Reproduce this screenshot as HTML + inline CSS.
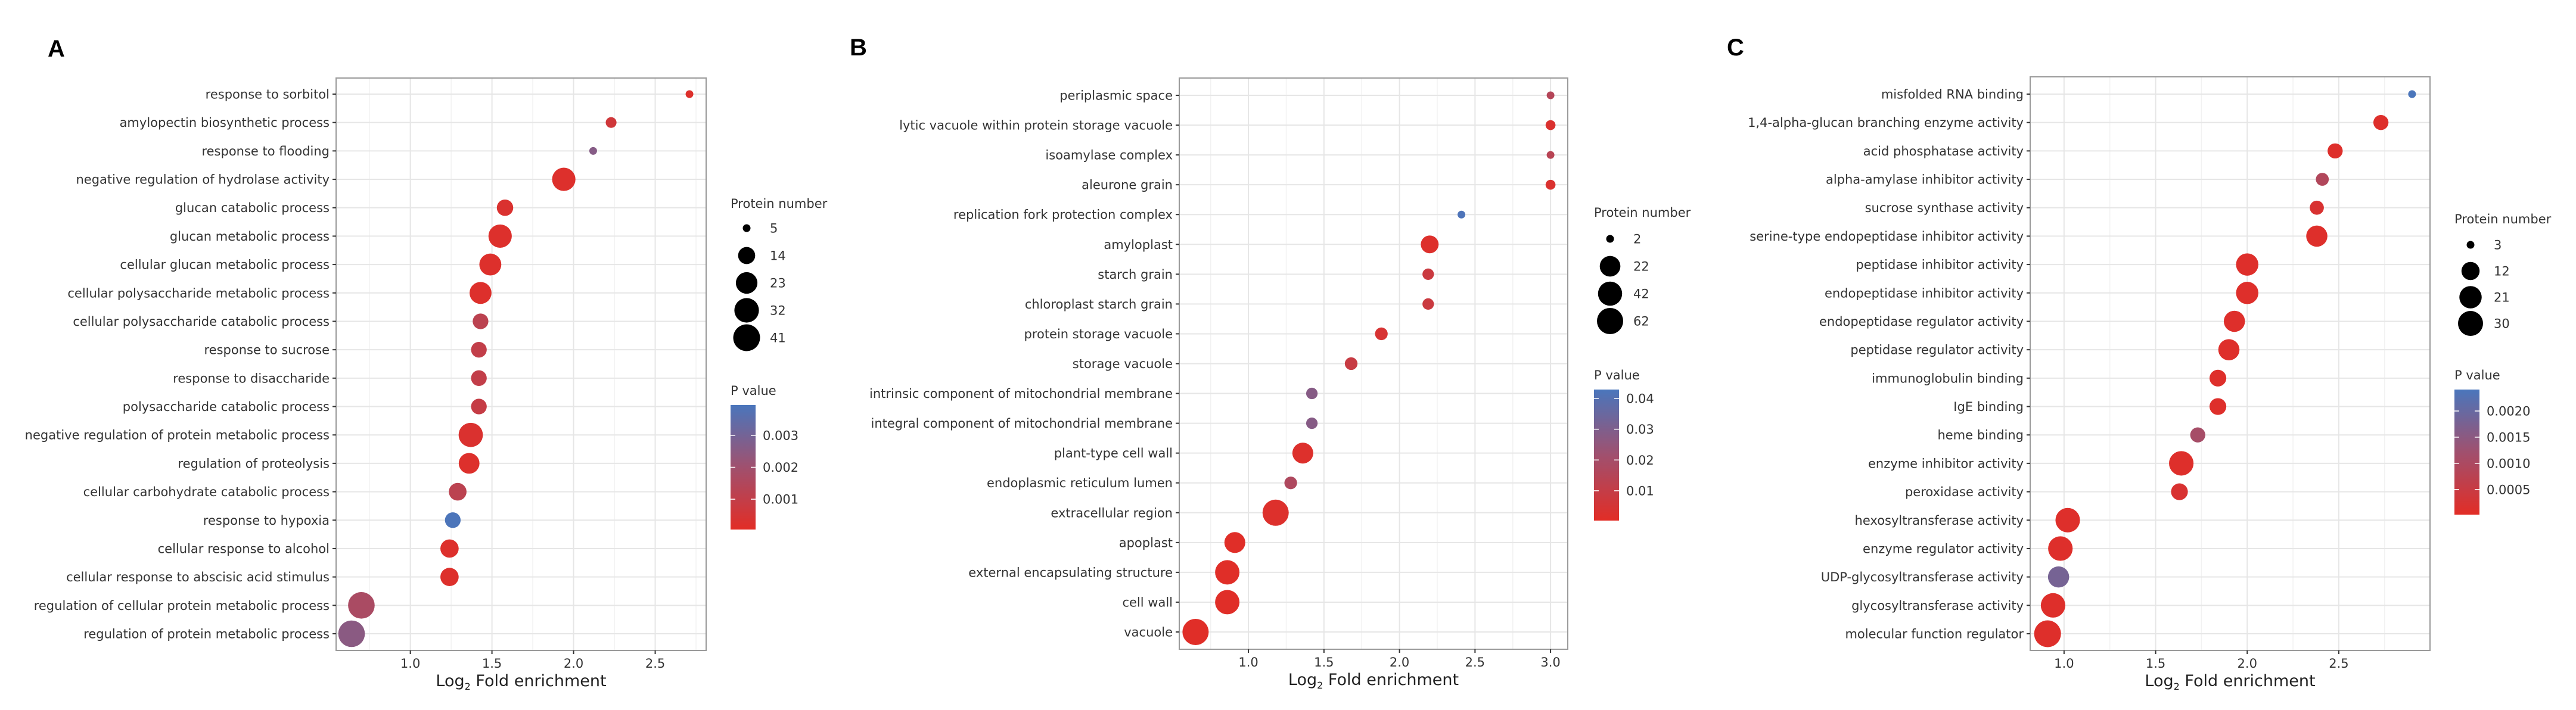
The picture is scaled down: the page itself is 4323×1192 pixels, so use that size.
<!DOCTYPE html>
<html><head><meta charset="utf-8"><style>
html,body{margin:0;padding:0;background:#fff;}
svg{display:block;font-family:"DejaVu Sans","Liberation Sans",sans-serif;}
</style></head><body>
<svg id="fig" width="4323" height="1192" viewBox="0 0 4323 1192" xmlns="http://www.w3.org/2000/svg"></svg>
<script>
// ---------- Panel A data ----------
const catA = ["response to sorbitol","amylopectin biosynthetic process","response to flooding","negative regulation of hydrolase activity","glucan catabolic process","glucan metabolic process","cellular glucan metabolic process","cellular polysaccharide metabolic process","cellular polysaccharide catabolic process","response to sucrose","response to disaccharide","polysaccharide catabolic process","negative regulation of protein metabolic process","regulation of proteolysis","cellular carbohydrate catabolic process","response to hypoxia","cellular response to alcohol","cellular response to abscisic acid stimulus","regulation of cellular protein metabolic process","regulation of protein metabolic process"];
const foldA = [2.71,2.23,2.12,1.94,1.58,1.55,1.49,1.43,1.43,1.42,1.42,1.42,1.37,1.36,1.29,1.26,1.24,1.24,0.70,0.64];
const countA = [5,7,5,28,13,28,24,24,12,12,12,12,31,21,15,12,16,16,40,40];
const pA = [0.0002,0.0006,0.0026,0.0002,0.0003,0.0002,0.0002,0.0002,0.0012,0.0010,0.0010,0.0009,0.0003,0.0002,0.0012,0.0039,0.0002,0.0002,0.0017,0.0025];
const sizeBreaksA = [5,14,23,32,41];
const pTicksA = [0.003,0.002,0.001];
const pTickLabelsA = ["0.003","0.002","0.001"];
const xTicksA = [1.0,1.5,2.0,2.5];
const xTickLabelsA = ["1.0","1.5","2.0","2.5"];
// ---------- Panel B data ----------
const catB = ["periplasmic space","lytic vacuole within protein storage vacuole","isoamylase complex","aleurone grain","replication fork protection complex","amyloplast","starch grain","chloroplast starch grain","protein storage vacuole","storage vacuole","intrinsic component of mitochondrial membrane","integral component of mitochondrial membrane","plant-type cell wall","endoplasmic reticulum lumen","extracellular region","apoplast","external encapsulating structure","cell wall","vacuole"];
const foldB = [3.0,3.0,3.0,3.0,2.41,2.20,2.19,2.19,1.88,1.68,1.42,1.42,1.36,1.28,1.18,0.91,0.86,0.86,0.65];
const countB = [2,3,2,3,2,13,4,4,5,5,4,4,23,5,62,23,44,44,62];
const pB = [0.015,0.003,0.014,0.003,0.042,0.002,0.008,0.008,0.004,0.009,0.028,0.028,0.002,0.017,0.002,0.001,0.001,0.001,0.001];
const sizeBreaksB = [2,22,42,62];
const pTicksB = [0.04,0.03,0.02,0.01];
const pTickLabelsB = ["0.04","0.03","0.02","0.01"];
const xTicksB = [1.0,1.5,2.0,2.5,3.0];
const xTickLabelsB = ["1.0","1.5","2.0","2.5","3.0"];
// ---------- Panel C data ----------
const catC = ["misfolded RNA binding","1,4-alpha-glucan branching enzyme activity","acid phosphatase activity","alpha-amylase inhibitor activity","sucrose synthase activity","serine-type endopeptidase inhibitor activity","peptidase inhibitor activity","endopeptidase inhibitor activity","endopeptidase regulator activity","peptidase regulator activity","immunoglobulin binding","IgE binding","heme binding","enzyme inhibitor activity","peroxidase activity","hexosyltransferase activity","enzyme regulator activity","UDP-glycosyltransferase activity","glycosyltransferase activity","molecular function regulator"];
const foldC = [2.90,2.73,2.48,2.41,2.38,2.38,2.00,2.00,1.93,1.90,1.84,1.84,1.73,1.64,1.63,1.02,0.98,0.97,0.94,0.91];
const countC = [3,8,8,6,7,18,21,21,18,18,10,10,8,28,10,28,28,18,28,38];
const pC = [0.0024,0.0001,0.0001,0.0009,0.0002,0.0001,0.0001,0.0001,0.0001,0.0001,0.0001,0.0001,0.0011,0.0001,0.0002,0.0001,0.0001,0.0018,0.0001,0.0001];
const sizeBreaksC = [3,12,21,30];
const pTicksC = [0.0020,0.0015,0.0010,0.0005];
const pTickLabelsC = ["0.0020","0.0015","0.0010","0.0005"];
const xTicksC = [1.0,1.5,2.0,2.5];
const xTickLabelsC = ["1.0","1.5","2.0","2.5"];

const NS = "http://www.w3.org/2000/svg";
const svg = document.getElementById('fig');
function mk(tag, attrs, parent){
  const e = document.createElementNS(NS, tag);
  for (const k in attrs) e.setAttribute(k, attrs[k]);
  (parent||svg).appendChild(e);
  return e;
}
function lerp(a,b,t){return a+(b-a)*t;}
const cLow=[226,45,38], cMid=[160,80,110], cHigh=[74,118,188];
function pColor(t){
  t=Math.max(0,Math.min(1,t));
  let c;
  if(t<0.5){const u=t/0.5;c=[0,1,2].map(i=>Math.round(lerp(cLow[i],cMid[i],u)));}
  else{const u=(t-0.5)/0.5;c=[0,1,2].map(i=>Math.round(lerp(cMid[i],cHigh[i],u)));}
  return `rgb(${c[0]},${c[1]},${c[2]})`;
}

function drawPanel(cfg){
  const g = mk('g',{});
  
  
  const {L,R,T,B,xmin,xmax,rowTop,rowBot} = cfg;
  const xs = v => L + (v - xmin)/(xmax - xmin)*(R - L);
  const n = cfg.cats.length;
  const ys = i => rowTop + i*(rowBot-rowTop)/(n-1);
  const lnMin = Math.log(cfg.sizeBreaks[0]), lnMax = Math.log(cfg.sizeBreaks[cfg.sizeBreaks.length-1]);
  const rs = v => 6.5 + (cfg.rMax-6.5)*(Math.log(v)-lnMin)/(lnMax-lnMin);
  const pt = v => (v - cfg.pMin)/(cfg.pMax - cfg.pMin);

  const lt = mk('text',{x:cfg.letterX,y:cfg.letterY,'font-size':40,'font-weight':'bold','font-family':'Liberation Sans, sans-serif',fill:'#000'},g);
  lt.textContent = cfg.letter;
  
  

  const grid = mk('g',{},g);
  
  
  const t0 = cfg.xTicks[0]-0.25;
  for(let v=t0; v<=xmax; v+=0.5){ if(v>=xmin) mk('line',{x1:xs(v),x2:xs(v),y1:T,y2:B,stroke:'#f2f2f2','stroke-width':1.5},grid); }
  cfg.xTicks.forEach(v=>mk('line',{x1:xs(v),x2:xs(v),y1:T,y2:B,stroke:'#e6e6e6','stroke-width':2},grid));
  for(let i=0;i<n;i++) mk('line',{x1:L,x2:R,y1:ys(i),y2:ys(i),stroke:'#e6e6e6','stroke-width':2},grid);

  const br = mk('rect',{x:L,y:T,width:R-L,height:B-T,fill:'none',stroke:'#9a9a9a','stroke-width':2},g);
  
  

  cfg.cats.forEach((c,i)=>{
    mk('line',{x1:L-6,x2:L,y1:ys(i),y2:ys(i),stroke:'#333','stroke-width':2},g);
    const t = mk('text',{x:L-11,y:ys(i)+7.5,'text-anchor':'end','font-size':21,fill:'#333'},g);
    t.textContent = c;
    
    
  });
  cfg.xTicks.forEach((v,i)=>{
    mk('line',{x1:xs(v),x2:xs(v),y1:B,y2:B+6,stroke:'#333','stroke-width':2},g);
    const t = mk('text',{x:xs(v),y:B+29,'text-anchor':'middle','font-size':21,fill:'#333'},g);
    t.textContent = cfg.xLabels[i];
    
    
  });
  const xt = mk('text',{x:(L+R)/2,y:B+60,'text-anchor':'middle','font-size':27,fill:'#222'},g);
  xt.innerHTML = 'Log<tspan font-size="16" dy="6">2</tspan><tspan dy="-6"> Fold enrichment</tspan>';
  
  

  cfg.cats.forEach((c,i)=>{
    const p = mk('circle',{cx:xs(cfg.fold[i]),cy:ys(i),r:rs(cfg.count[i]),fill:pColor(pt(cfg.p[i]))},g);
    
    
  });

  const sl = mk('g',{},g);
  
  
  const st = mk('text',{x:cfg.legX,y:cfg.sizeTitleY+7,'font-size':21,fill:'#333'},sl);
  st.textContent = 'Protein number';
  cfg.sizeBreaks.forEach((v,i)=>{
    const cy = cfg.sizeYs0 + i*cfg.sizeStep;
    const c = mk('circle',{cx:cfg.legX+27,cy:cy,r:rs(v),fill:'#000'},sl);
    
    
    const t = mk('text',{x:cfg.legX+66,y:cy+7.5,'font-size':21,fill:'#333'},sl);
    t.textContent = String(v);
  });

  const cl = mk('g',{},g);
  
  
  const ct = mk('text',{x:cfg.legX,y:cfg.cbTop-17,'font-size':21,fill:'#333'},cl);
  ct.textContent = 'P value';
  const gid = 'grad'+cfg.letter;
  const defs = mk('defs',{},cl);
  const lg = mk('linearGradient',{id:gid,x1:0,y1:1,x2:0,y2:0},defs);
  for(let k=0;k<=10;k++) mk('stop',{offset:k/10,'stop-color':pColor(k/10)},lg);
  const cbH = cfg.cbBot-cfg.cbTop;
  const cb = mk('rect',{x:cfg.legX,y:cfg.cbTop,width:42,height:cbH,fill:`url(#${gid})`},cl);
  
  
  cfg.pTicks.forEach((v,i)=>{
    const y = cfg.cbBot - pt(v)*cbH;
    mk('line',{x1:cfg.legX,x2:cfg.legX+8,y1:y,y2:y,stroke:'#fff','stroke-width':1.5},cl);
    mk('line',{x1:cfg.legX+34,x2:cfg.legX+42,y1:y,y2:y,stroke:'#fff','stroke-width':1.5},cl);
    const t = mk('text',{x:cfg.legX+54,y:y+7.5,'font-size':21,fill:'#333'},cl);
    t.textContent = cfg.pLabels[i];
  });
}

drawPanel({name:'panel-a',letter:'A',letterX:80,letterY:95,L:564,R:1185,T:131,B:1092,xmin:0.545,xmax:2.812,rowTop:158,rowBot:1064,
  cats:catA,fold:foldA,count:countA,p:pA,sizeBreaks:sizeBreaksA,rMax:22.5,pMin:0.00005,pMax:0.00395,
  xTicks:xTicksA,xLabels:xTickLabelsA,pTicks:pTicksA,pLabels:pTickLabelsA,
  legX:1226,sizeTitleY:342,sizeYs0:383,sizeStep:46,cbTop:680,cbBot:889});
drawPanel({name:'panel-b',letter:'B',letterX:1426,letterY:93,L:1979,R:2631,T:131,B:1090,xmin:0.542,xmax:3.114,rowTop:160,rowBot:1061,
  cats:catB,fold:foldB,count:countB,p:pB,sizeBreaks:sizeBreaksB,rMax:22,pMin:0.0003,pMax:0.0429,
  xTicks:xTicksB,xLabels:xTickLabelsB,pTicks:pTicksB,pLabels:pTickLabelsB,
  legX:2675,sizeTitleY:357,sizeYs0:401,sizeStep:46,cbTop:654,cbBot:874});
drawPanel({name:'panel-c',letter:'C',letterX:2898,letterY:93,L:3407,R:4078,T:129,B:1092,xmin:0.815,xmax:2.998,rowTop:158,rowBot:1064,
  cats:catC,fold:foldC,count:countC,p:pC,sizeBreaks:sizeBreaksC,rMax:21,pMin:0.00002,pMax:0.00241,
  xTicks:xTicksC,xLabels:xTickLabelsC,pTicks:pTicksC,pLabels:pTickLabelsC,
  legX:4119,sizeTitleY:368,sizeYs0:411,sizeStep:44,cbTop:654,cbBot:864});
</script>
</body></html>
